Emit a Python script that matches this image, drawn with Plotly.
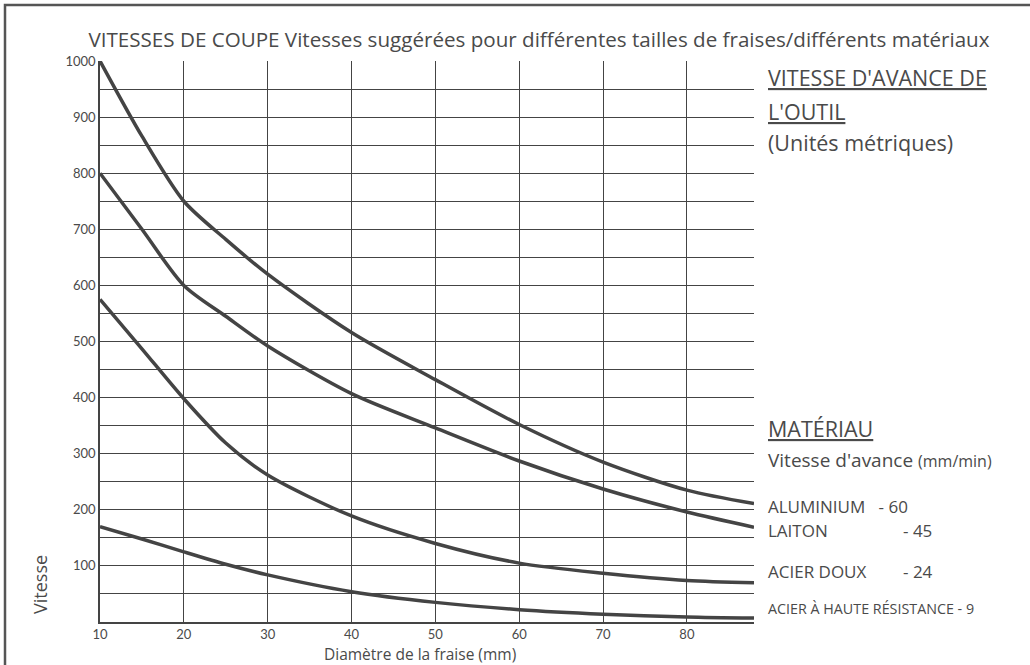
import plotly.graph_objects as go

# diamètre de la fraise (mm)
diam = [10, 15, 20, 25, 30, 40, 50, 60, 70, 80, 88]

aluminium = [1000, 866, 750, 682, 620, 516, 432, 352, 285, 235, 211]
laiton = [800, 700, 600, 545, 492, 407, 346, 287, 237, 196, 169]
acier_doux = [575, 487, 398, 319, 262, 189, 140, 105, 87, 74, 70]
acier_hr = [170, 148, 125, 103, 84, 54, 35, 22, 14, 9, 7]

x_ticks = [10, 20, 30, 40, 50, 60, 70, 80]
y_ticks = [100, 200, 300, 400, 500, 600, 700, 800, 900, 1000]
y_bas = [50, 100, 150, 200, 250, 300, 350, 400]  # lignes plus épaisses en bas

INK = '#444444'
TXT = '#4a4a4a'
FONT = 'Open Sans'

fig = go.Figure()
for name, ys in [('ALUMINIUM', aluminium), ('LAITON', laiton),
                 ('ACIER DOUX', acier_doux), ('ACIER À HAUTE RÉSISTANCE', acier_hr)]:
    fig.add_trace(go.Scatter(x=diam, y=ys, name=name, mode='lines',
                             line=dict(color=INK, width=3.5, shape='spline', smoothing=0.8),
                             hoverinfo='x+y+name'))

fig.update_xaxes(range=[10, 88], tickvals=x_ticks, showgrid=True, gridcolor=INK, gridwidth=1.3,
                 showline=True, linecolor=INK, linewidth=1.5, zeroline=False,
                 tickfont=dict(family='Lato', size=13, color=TXT), ticks='', ticklen=0)
fig.update_yaxes(range=[0, 1000], tickvals=y_ticks, showgrid=True, gridcolor=INK, gridwidth=1.3,
                 showline=True, linecolor=INK, linewidth=1.5, zeroline=False,
                 minor=dict(dtick=50, showgrid=True, gridcolor=INK, gridwidth=1.3),
                 tickfont=dict(family='Lato', size=13, color=TXT), ticks='')

fig.update_layout(
    width=1030, height=665,
    margin=dict(l=100, r=276, t=61, b=43),
    plot_bgcolor='white', paper_bgcolor='white',
    showlegend=False,
    yaxis2=dict(overlaying='y', range=[0, 1000], tickvals=y_bas, showticklabels=False,
                showgrid=True, gridcolor=INK, gridwidth=2.2, zeroline=False, ticks=''),
    title=dict(text='VITESSES DE COUPE Vitesses suggérées pour différentes tailles de fraises/différents matériaux',
               x=539 / 1030, xanchor='center', y=1 - 40 / 665, yanchor='middle',
               font=dict(family=FONT, size=20.6, color=TXT)),
)

# cadre (seulement haut et gauche visibles)
fig.add_shape(type='rect', xref='paper', yref='paper',
              x0=-95 / 654, x1=1.5, y0=-0.2, y1=1 + 56 / 561,
              line=dict(color='#555555', width=2.5), layer='below')


def note(text, px, py, size=16, anchor='left', **kw):
    fig.add_annotation(text=text, xref='paper', yref='paper',
                       x=(px - 100) / 654, y=(622 - py) / 561,
                       xanchor=anchor, yanchor='middle', showarrow=False,
                       font=dict(family=FONT, size=size, color=TXT), **kw)


note('<u>VITESSE D\'AVANCE DE</u>', 766, 78, 21.5)
note('<u>L\'OUTIL</u>', 766, 111, 21.5)
note('(Unités métriques)', 766, 143, 21.5)
note('<u>MATÉRIAU</u>', 766, 428, 21.5)
note('Vitesse d\'avance <span style="font-size:16px">(mm/min)</span>', 766, 460, 19)
note('ALUMINIUM&nbsp;&nbsp;&nbsp;- 60', 766, 506, 17)
note('LAITON', 766, 530, 17)
note('- 45', 901, 530, 17)
note('ACIER DOUX', 766, 571, 17)
note('- 24', 901, 571, 17)
note('ACIER À HAUTE RÉSISTANCE - 9', 766, 608, 14.3)
note('Diamètre de la fraise (mm)', 420, 654, 15.5, anchor='center')
note('Vitesse', 40, 585, 18, anchor='center', textangle=-90)

fig.write_html('out.html', config={'displayModeBar': False},
               post_script="document.body.style.margin='0';")
